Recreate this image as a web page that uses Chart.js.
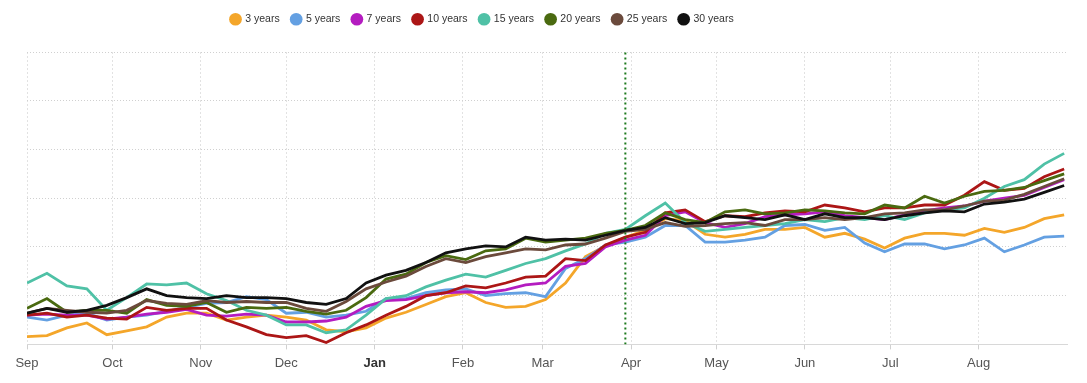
<!DOCTYPE html>
<html>
<head>
<meta charset="utf-8">
<title>Yields by maturity</title>
<script src="https://cdn.jsdelivr.net/npm/chart.js@4.4.0/dist/chart.umd.min.js"></script>
<style>
  html, body { margin: 0; padding: 0; background: #fff; }
  .chart-wrap { position: relative; width: 1087px; height: 383px; }
</style>
</head>
<body>
<div class="chart-wrap"><canvas id="myChart"></canvas></div>
<script>
// days counted from 1 Sep, one reading per week
const days = [0, 7, 14, 21, 28, 35, 42, 49, 56, 63, 70, 77, 84, 91, 98, 105, 112, 119, 126, 133,
  140, 147, 154, 161, 168, 175, 182, 189, 196, 203, 210, 217, 224, 231, 238, 245, 252, 259, 266,
  273, 280, 287, 294, 301, 308, 315, 322, 329, 336, 343, 350, 357, 364];

const monthStarts = [0, 30, 61, 91, 122, 153, 181, 212, 242, 273, 303, 334];
const monthNames = ['Sep', 'Oct', 'Nov', 'Dec', 'Jan', 'Feb', 'Mar', 'Apr', 'May', 'Jun', 'Jul', 'Aug'];
const markerDay = 210;

const threeYears = [8, 9, 17, 22, 10, 14, 18, 28, 32, 32, 25, 28, 30, 28, 25, 15, 13, 17, 27, 33,
  41, 49, 53, 43, 38, 39, 46, 63, 90, 101, 110, 117, 129, 127, 113, 110, 113, 118, 118, 120,
  110, 114, 108, 99, 109, 114, 114, 112, 119, 115, 120, 129, 133];
const fiveYears = [28, 25, 30, 32, 25, 28, 30, 34, 38, 42, 43, 49, 46, 32, 33, 28, 30, 34, 47, 47,
  53, 56, 57, 50, 52, 53, 49, 78, 88, 102, 105, 110, 122, 122, 105, 105, 107, 110, 122, 123,
  117, 120, 104, 95, 103, 103, 98, 102, 109, 95, 102, 110, 111];
const sevenYears = [30, 31, 30, 30, 26, 28, 31, 33, 36, 30, 29, 31, 30, 23, 23, 24, 28, 39, 45, 46,
  50, 53, 54, 53, 56, 61, 63, 80, 83, 100, 107, 112, 132, 136, 125, 120, 124, 131, 133, 134,
  136, 132, 130, 128, 133, 137, 140, 142, 147, 150, 153, 161, 169];
const tenYears = [30, 32, 28, 30, 27, 26, 38, 35, 37, 37, 25, 18, 10, 7, 9, 2, 12, 20, 30, 39,
  50, 53, 60, 58, 63, 69, 70, 88, 86, 102, 110, 115, 135, 138, 126, 132, 131, 135, 137, 136,
  143, 140, 136, 140, 140, 143, 143, 153, 167, 158, 160, 172, 180];
const fifteenYears = [63, 73, 60, 57, 35, 48, 62, 61, 63, 52, 45, 35, 30, 20, 20, 12, 15, 30, 47, 50,
  59, 66, 72, 69, 76, 83, 88, 96, 103, 114, 118, 132, 145, 125, 116, 118, 120, 122, 124, 128,
  126, 130, 128, 132, 128, 135, 138, 140, 150, 162, 169, 185, 196];
const twentyYears = [37, 47, 33, 35, 35, 32, 46, 40, 39, 43, 33, 38, 37, 38, 34, 31, 35, 48, 67, 72,
  84, 91, 87, 96, 98, 109, 105, 107, 109, 114, 117, 122, 135, 128, 125, 136, 138, 134, 135, 138,
  137, 135, 134, 143, 140, 152, 145, 152, 157, 158, 161, 168, 175];
const twentyFiveYears = [32, 37, 35, 33, 32, 35, 45, 42, 41, 45, 43, 44, 43, 43, 37, 34, 44, 57, 64, 70,
  80, 88, 84, 90, 94, 98, 97, 102, 103, 109, 116, 118, 125, 121, 122, 124, 125, 122, 128, 128,
  130, 128, 130, 134, 135, 138, 138, 142, 147, 148, 154, 162, 170];
const thirtyYears = [32, 37, 33, 35, 40, 48, 57, 50, 48, 47, 50, 48, 48, 47, 43, 41, 47, 63, 71, 76,
  84, 94, 98, 101, 100, 110, 107, 108, 107, 112, 117, 120, 130, 124, 125, 132, 130, 128, 133, 128,
  134, 130, 130, 128, 132, 135, 137, 136, 144, 146, 149, 156, 163];

const seriesNames = ['3 years', '5 years', '7 years', '10 years', '15 years', '20 years', '25 years', '30 years'];
const seriesColors = ['#f4a62a', '#64a0e2', '#b41cc0', '#ac1616', '#4fc1a6', '#4a6a10', '#6b4a3c', '#111111'];

// pushes the plot down under the legend and moves the legend to its spot
const legendSpacing = {
  id: 'legendSpacing',
  beforeInit: function (chart) {
    const originalFit = chart.legend.fit;
    chart.legend.fit = function () {
      originalFit.bind(chart.legend)();
      this.height += 17.5;
    };
  },
  afterLayout: function (chart) {
    chart.legend.left = 219;
  },
};

const init = function () {
  Chart.defaults.font.family = 'Arial, "Liberation Sans", sans-serif';
  const allSeries = [threeYears, fiveYears, sevenYears, tenYears, fifteenYears, twentyYears, twentyFiveYears, thirtyYears];

  const datasets = allSeries.map(function (values, i) {
    return {
      label: seriesNames[i],
      data: values.map(function (v, j) { return { x: days[j], y: v }; }),
      borderColor: seriesColors[i],
      backgroundColor: seriesColors[i],
      borderWidth: 2.8,
      pointRadius: 0,
      tension: 0,
      order: allSeries.length - i,
    };
  });
  datasets.push({
    label: 'marker',
    data: [{ x: markerDay, y: 0 }, { x: markerDay, y: 300 }],
    borderColor: '#1c7a1c',
    borderWidth: 2,
    borderDash: [2, 3],
    pointRadius: 0,
    order: 0,
  });

  const ctx = document.getElementById('myChart').getContext('2d');
  new Chart(ctx, {
    type: 'line',
    data: { datasets: datasets },
    options: {
      responsive: true,
      maintainAspectRatio: false,
      animation: false,
      layout: { padding: { top: 2, left: 27, right: 20, bottom: 6 } },
      plugins: {
        tooltip: { enabled: false },
        legend: {
          position: 'top',
          align: 'start',
          labels: {
            usePointStyle: true,
            pointStyle: 'circle',
            boxWidth: 9,
            boxHeight: 9,
            padding: 12,
            color: '#333',
            font: { size: 10.5 },
            generateLabels: function (chart) {
              return Chart.defaults.plugins.legend.labels.generateLabels(chart).map(function (item) {
                item.lineWidth = 0;
                return item;
              });
            },
            filter: function (item) { return item.datasetIndex < seriesNames.length; },
            sort: function (a, b) { return a.datasetIndex - b.datasetIndex; },
          },
        },
      },
      scales: {
        x: {
          type: 'linear',
          min: 0,
          max: 365,
          afterBuildTicks: function (axis) {
            axis.ticks = monthStarts.map(function (v) { return { value: v }; });
          },
          ticks: {
            autoSkip: false,
            maxRotation: 0,
            padding: 6,
            color: function (c) { return c.tick && c.tick.value === 122 ? '#333' : '#555'; },
            font: function (c) {
              return { size: 13, weight: c.tick && c.tick.value === 122 ? 'bold' : 'normal' };
            },
            callback: function (value) { return monthNames[monthStarts.indexOf(value)]; },
          },
          grid: { color: '#e2e2e2', tickColor: '#d0d0d0', tickLength: 5 },
          border: { display: true, color: '#d8d8d8', dash: [2, 2] },
        },
        y: {
          min: 0,
          max: 300,
          ticks: { display: false, stepSize: 50 },
          grid: { color: '#d0d0d0', drawTicks: false },
          border: { display: false, dash: [1, 2] },
        },
      },
    },
    plugins: [legendSpacing],
  });
};

document.addEventListener('DOMContentLoaded', init);
</script>
</body>
</html>
